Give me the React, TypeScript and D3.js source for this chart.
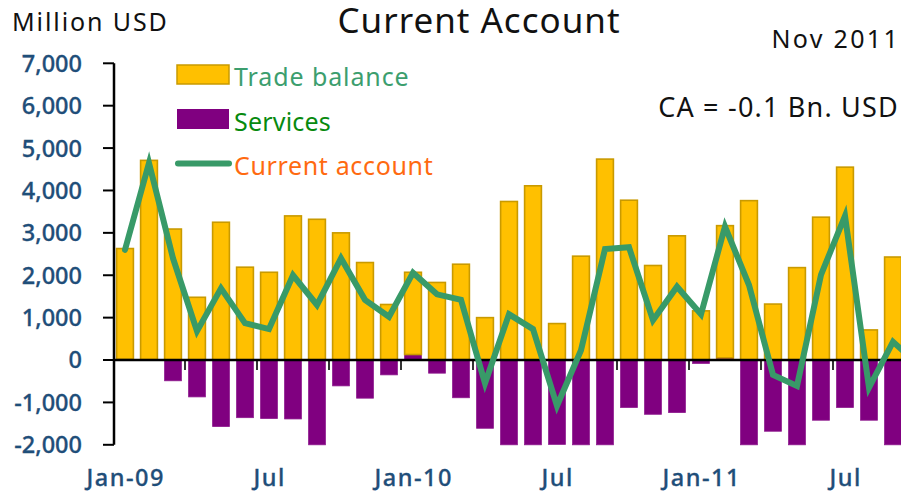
import React from "react";
import * as d3 from "d3";

const months = [
  "Jan-09","Feb-09","Mar-09","Apr-09","May-09","Jun-09","Jul-09","Aug-09","Sep-09","Oct-09","Nov-09","Dec-09",
  "Jan-10","Feb-10","Mar-10","Apr-10","May-10","Jun-10","Jul-10","Aug-10","Sep-10","Oct-10","Nov-10","Dec-10",
  "Jan-11","Feb-11","Mar-11","Apr-11","May-11","Jun-11","Jul-11","Aug-11","Sep-11","Oct-11","Nov-11",
];
const tradeBalance: (number | null)[] = [
  2610, 4700, 3090, 1480, 3250, 2190, 2070, 3400, 3320, 3000, 2300, 1310,
  1940, 1830, 2260, 1000, 3740, 4110, 860, 2450, 4740, 3770, 2230, 2930,
  1160, 3120, 3760, 1320, 2180, 3370, 4550, 710, 2430, null, null,
];
const services: (number | null)[] = [
  20, 10, -490, -870, -1570, -1360, -1380, -1390, -2050, -610, -900, -350,
  130, -310, -890, -1610, -2100, -2150, -1990, -2080, -2200, -1120, -1280, -1240,
  -80, 50, -2100, -1680, -2120, -1420, -1120, -1420, -2020, null, null,
];
const currentAccount: number[] = [
  2600, 4650, 2400, 680, 1690, 870, 730, 2000, 1300, 2400, 1420, 1020,
  2060, 1550, 1420, -550, 1080, 730, -1080, 230, 2620, 2660, 940, 1730,
  1080, 3150, 1770, -350, -610, 2010, 3400, -650, 430, -80, -100,
];
const xTickLabels = ["Jan-09", "Jul", "Jan-10", "Jul", "Jan-11", "Jul"];
const xTickMonths = ["Jan-09", "Jul-09", "Jan-10", "Jul-10", "Jan-11", "Jul-11"];
const yTicks = [-2000, -1000, 0, 1000, 2000, 3000, 4000, 5000, 6000, 7000];

const W = 901;
const H = 493;
const FONT = "'Noto Sans', 'Open Sans', sans-serif";
const AXIS_BLUE = "#1F4E79";
const LINE_GREEN = "#389A68";
const GOLD = "#FFC000";
const GOLD_STROKE = "#C99A00";
const PURPLE = "#800080";

export default function App() {
  const x = d3
    .scaleBand<string>()
    .domain(months)
    .range([113, 113 + months.length * 24])
    .paddingInner(0.3)
    .paddingOuter(0.15);
  const y = d3.scaleLinear().domain([-2000, 7000]).range([444.8, 63.3]).clamp(true);
  const fmt = d3.formatLocale({ decimal: ".", thousands: ",", grouping: [3], currency: ["$", ""], minus: "-" }).format(",");

  const rows = months
    .map((m, i) => ({ month: m, services: services[i], trade: tradeBalance[i] }))
    .filter((r) => r.trade !== null && r.services !== null) as { month: string; services: number; trade: number }[];
  const stack = d3
    .stack<{ month: string; services: number; trade: number }>()
    .keys(["services", "trade"])
    .offset(d3.stackOffsetDiverging);
  const series = stack(rows);

  const cx = (m: string) => (x(m) as number) + x.bandwidth() / 2;
  const line = d3
    .line<number>()
    .x((_, i) => cx(months[i]))
    .y((d) => y(d));

  const step = x.step();
  const tickIdx = months.map((_, i) => i).filter((i) => i > 0 && i % 3 === 0);

  return (
    <svg width={W} height={H} style={{ position: "absolute", left: 0, top: 0, background: "#fff" }} fontFamily={FONT}>
      {/* bars */}
      {series.map((s) => (
        <g key={s.key}>
          {s.map((d) => {
            const y0 = y(d[0]);
            const y1 = y(d[1]);
            const top = Math.min(y0, y1);
            const h = Math.abs(y1 - y0);
            if (h < 0.01) return null;
            const isTrade = s.key === "trade";
            return (
              <rect
                key={d.data.month}
                x={x(d.data.month)}
                y={top}
                width={x.bandwidth()}
                height={h}
                fill={isTrade ? GOLD : PURPLE}
                stroke={isTrade ? GOLD_STROKE : "#8E1A8E"}
                strokeWidth={isTrade ? 1.6 : 0.8}
              />
            );
          })}
        </g>
      ))}

      {/* axes */}
      <line x1={114} x2={114} y1={y(7000)} y2={y(-2000)} stroke="#000" strokeWidth={2.5} />
      {yTicks.map((t) => (
        <g key={t}>
          <line x1={103} x2={114} y1={y(t)} y2={y(t)} stroke="#000" strokeWidth={2} />
          <text
            x={82}
            y={y(t)}
            dy="0.36em"
            textAnchor="end"
            fontSize={23.5}
            fontWeight={500}
            fill={AXIS_BLUE}
            stroke={AXIS_BLUE}
            strokeWidth={0.3}
          >
            {fmt(t)}
          </text>
        </g>
      ))}
      <line x1={113} x2={W} y1={y(0)} y2={y(0)} stroke="#000" strokeWidth={2.5} />
      {tickIdx.map((i) => (
        <line
          key={i}
          x1={cx(months[i]) - step / 2}
          x2={cx(months[i]) - step / 2}
          y1={y(0)}
          y2={y(0) + 10}
          stroke="#000"
          strokeWidth={1.6}
        />
      ))}
      {xTickMonths.map((m, i) => (
        <text
          key={m}
          x={cx(m) + 0.75}
          y={486}
          textAnchor="middle"
          fontSize={23.5}
          fontWeight={500}
          letterSpacing={1.5}
          fill={AXIS_BLUE}
          stroke={AXIS_BLUE}
          strokeWidth={0.3}
        >
          {xTickLabels[i]}
        </text>
      ))}

      {/* current account line */}
      <path
        d={line(currentAccount) || ""}
        fill="none"
        stroke={LINE_GREEN}
        strokeWidth={6}
        strokeLinecap="round"
        strokeLinejoin="miter"
      />

      {/* legend */}
      <rect x={177} y={65} width={52} height={19} fill={GOLD} stroke={GOLD_STROKE} strokeWidth={1.5} />
      <text x={234} y={86} fontSize={25} letterSpacing={0.9} fill="#3C9E6E">Trade balance</text>
      <rect x={177} y={109} width={52} height={20} fill={PURPLE} />
      <text x={234} y={131} fontSize={25} letterSpacing={0.2} fill="#078A0E">Services</text>
      <line x1={178} x2={229} y1={163.5} y2={163.5} stroke={LINE_GREEN} strokeWidth={6} strokeLinecap="round" />
      <text x={234} y={175} fontSize={25} letterSpacing={0.65} fill="#FF6A10">Current account</text>

      {/* titles */}
      <text x={12} y={31} fontSize={25} letterSpacing={1.9} fill="#111">Million USD</text>
      <text x={479} y={33} textAnchor="middle" fontSize={35} letterSpacing={1} fill="#111">Current Account</text>
      <text x={900} y={48} textAnchor="end" fontSize={25} letterSpacing={2.3} fill="#111">Nov 2011</text>
      <text x={899} y={117} textAnchor="end" fontSize={27} letterSpacing={1.2} fill="#111">CA = -0.1 Bn. USD</text>
    </svg>
  );
}
